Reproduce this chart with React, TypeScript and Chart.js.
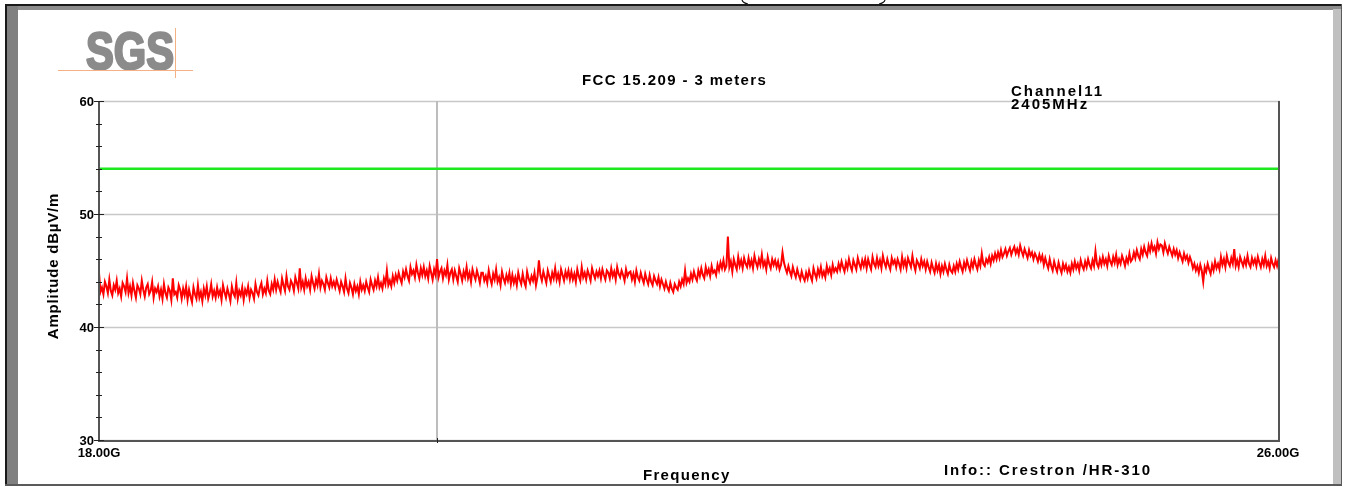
import { useEffect, useRef } from "react";
import { Chart, registerables } from "chart.js";

Chart.register(...registerables);

// Sweep range of the spectrum analyser (GHz)
const SWEEP_START_GHZ = 18;
const SWEEP_STOP_GHZ = 26;

// Measured peak trace, dBµV/m, evenly spaced across the sweep
const AMPLITUDE_DBUV: number[] = [
  44.8, 43.1, 43.5, 42.9, 44.0, 43.6, 43.0, 44.2, 43.2, 42.8, 43.7, 43.3, 44.1, 43.0, 43.4, 42.7, 43.9, 43.6, 43.1, 44.3,
  43.0, 43.6, 42.8, 43.9, 43.2, 42.6, 43.7, 43.4, 42.9, 44.1, 43.3, 42.7, 43.5, 43.8, 42.9, 43.2, 44.0, 42.6, 43.4, 43.1,
  43.6, 42.7, 43.3, 42.5, 43.8, 43.0, 42.6, 43.5, 43.2, 42.4, 44.3, 42.9, 43.1, 42.6, 43.7, 43.3, 42.5, 43.4, 42.8, 43.6,
  42.4, 43.3, 42.7, 42.2, 43.5, 42.9, 42.5, 43.7, 42.6, 43.1, 42.3, 43.4, 42.8, 43.6, 42.5, 43.0, 43.8, 42.7, 43.2, 42.6,
  43.5, 42.8, 43.2, 42.4, 43.7, 43.1, 42.6, 43.4, 42.9, 42.3, 43.6, 43.0, 42.7, 43.9, 42.5, 43.2, 42.8, 43.5, 42.4, 43.3,
  42.9, 43.6, 42.6, 43.3, 43.0, 42.5, 43.8, 43.1, 42.8, 43.5, 43.9, 42.9, 43.4, 43.0, 44.1, 43.2, 42.9, 43.8, 43.3, 44.2,
  43.3, 44.0, 43.5, 43.1, 44.3, 43.7, 43.2, 44.5, 43.6, 43.3, 44.1, 43.8, 43.2, 44.4, 43.9, 43.4, 45.2, 43.5, 44.0, 43.3,
  44.3, 43.6, 44.0, 43.3, 44.5, 43.9, 43.4, 44.2, 43.7, 44.7, 43.5, 44.1, 43.8, 43.3, 44.4, 43.9, 43.5, 44.3, 43.6, 44.0,
  43.5, 44.2, 43.7, 43.2, 44.0, 43.6, 43.1, 44.3, 43.4, 43.0, 43.9, 43.5, 42.9, 43.8, 43.2, 43.6, 42.9, 44.0, 43.3, 43.7,
  43.2, 44.0, 43.5, 43.1, 44.2, 43.7, 43.3, 44.1, 43.6, 44.4, 43.5, 43.9, 43.4, 44.3, 43.8, 45.0, 43.7, 44.1, 43.6, 44.5,
  43.9, 44.6, 44.1, 44.8, 44.3, 43.9, 44.9, 44.4, 45.1, 44.5, 44.1, 45.3, 44.7, 45.0, 44.4, 45.5, 44.8, 44.3, 45.2, 44.6,
  45.3, 44.5, 45.0, 44.3, 45.4, 44.8, 44.2, 45.1, 44.6, 46.0, 44.4, 44.9, 45.2, 44.3, 45.0, 44.6, 45.5, 44.2, 44.8, 45.1,
  44.2, 45.0, 44.5, 44.0, 45.2, 44.7, 44.1, 44.9, 44.4, 45.3, 44.3, 44.8, 44.0, 45.1, 44.6, 44.2, 45.0, 44.5, 43.9, 44.8,
  44.8, 44.1, 44.5, 43.9, 45.0, 44.3, 43.8, 44.7, 44.2, 45.1, 44.0, 44.4, 43.7, 44.9, 44.3, 43.9, 44.6, 44.1, 44.8, 43.8,
  44.6, 43.9, 44.4, 43.7, 44.8, 44.2, 43.8, 44.7, 44.0, 43.6, 44.9, 44.3, 43.9, 44.5, 44.1, 44.8, 43.7, 44.4, 45.9, 44.6,
  44.1, 44.9, 44.4, 43.9, 45.0, 44.5, 44.0, 44.8, 44.3, 45.2, 44.2, 44.7, 44.0, 45.1, 44.6, 44.1, 44.9, 44.4, 45.0, 44.2,
  44.9, 44.2, 44.7, 44.0, 45.1, 44.5, 44.1, 45.3, 44.4, 44.8, 44.2, 45.0, 44.6, 44.1, 45.2, 44.7, 44.3, 44.9, 44.5, 45.0,
  44.3, 45.1, 44.6, 44.2, 45.0, 44.8, 44.3, 45.2, 44.5, 44.9, 44.2, 45.3, 44.7, 44.4, 45.0, 44.6, 44.1, 45.1, 44.5, 44.8,
  44.9, 44.2, 44.7, 44.0, 45.0, 44.4, 44.1, 44.8, 44.3, 43.9, 44.7, 44.2, 43.8, 44.6, 44.0, 43.7, 44.5, 44.1, 43.8, 44.4,
  43.6, 44.2, 43.8, 43.4, 44.0, 43.5, 43.2, 43.9, 43.4, 43.1, 43.8, 43.5, 43.3, 44.0, 43.6, 44.2, 43.8, 45.0, 43.9, 44.3,
  44.0, 44.7, 44.2, 44.9, 44.4, 44.1, 45.0, 44.5, 45.2, 44.6, 44.3, 45.3, 44.7, 45.1, 44.5, 45.4, 44.8, 45.0, 44.6, 45.5,
  45.0, 45.7, 45.2, 45.9, 45.1, 45.4, 48.0, 45.3, 45.8, 44.9, 46.0, 45.5, 45.1, 46.2, 45.4, 45.9, 45.2, 46.1, 45.6, 45.3,
  46.1, 45.4, 45.9, 45.2, 46.3, 45.7, 45.3, 46.0, 45.5, 46.4, 45.4, 45.8, 45.1, 46.2, 45.6, 45.2, 46.0, 45.5, 45.9, 45.3,
  45.8, 45.1, 45.5, 46.6, 45.7, 45.2, 44.8, 45.4, 44.9, 44.5, 45.3, 44.8, 44.4, 45.1, 44.6, 44.2, 44.9, 44.4, 44.1, 44.8,
  44.3, 45.0, 44.5, 44.1, 45.2, 44.7, 44.3, 45.1, 44.6, 45.3, 44.5, 44.9, 44.4, 45.4, 44.8, 45.2, 44.6, 45.5, 44.9, 45.2,
  44.9, 45.6, 45.1, 45.8, 45.3, 44.9, 45.7, 45.2, 46.0, 45.4, 45.0, 45.9, 45.5, 45.1, 46.1, 45.6, 45.2, 45.9, 45.4, 46.0,
  45.2, 46.0, 45.5, 45.1, 46.2, 45.6, 45.3, 46.1, 45.4, 45.9, 45.2, 46.3, 45.7, 45.3, 46.0, 45.5, 45.1, 46.1, 45.6, 45.9,
  45.3, 46.0, 45.6, 45.1, 46.2, 45.4, 45.9, 45.2, 46.1, 45.7, 45.3, 46.3, 45.5, 45.0, 45.9, 45.6, 45.2, 46.0, 45.4, 45.8,
  45.1, 45.8, 45.3, 44.9, 45.7, 45.2, 44.8, 45.6, 45.0, 45.5, 44.7, 45.4, 44.9, 45.6, 45.1, 44.7, 45.5, 45.0, 44.8, 45.4,
  44.9, 45.6, 45.1, 45.8, 45.3, 44.9, 45.7, 45.2, 45.9, 45.4, 45.0, 45.8, 45.3, 46.0, 45.5, 45.1, 45.9, 45.4, 46.5, 45.6,
  45.4, 46.0, 45.7, 46.2, 45.6, 46.3, 45.9, 46.5, 46.0, 46.6, 46.1, 46.8, 46.2, 46.5, 46.9, 46.3, 46.7, 47.0, 46.4, 46.8,
  47.1, 46.5, 46.9, 46.4, 47.2, 46.7, 46.3, 46.9, 46.5, 46.1, 46.8, 46.3, 46.6, 46.0, 46.5, 46.2, 45.8, 46.4, 45.9, 46.3,
  45.5, 46.1, 45.6, 45.2, 46.0, 45.4, 45.0, 45.8, 45.3, 44.9, 45.7, 45.2, 44.8, 45.6, 45.1, 45.5, 44.9, 45.3, 44.8, 45.6,
  45.1, 45.8, 45.2, 45.6, 45.0, 45.9, 45.4, 45.1, 45.8, 45.3, 46.0, 45.5, 45.2, 45.9, 45.4, 46.7, 45.6, 45.3, 46.0, 45.5,
  46.2, 45.6, 46.0, 45.4, 46.3, 45.8, 45.5, 46.2, 45.7, 46.4, 45.5, 46.0, 45.6, 46.3, 45.9, 45.4, 46.1, 45.7, 46.5, 45.8,
  46.0, 46.6, 46.1, 46.8, 46.3, 46.0, 46.9, 46.4, 47.1, 46.6, 46.3, 47.2, 46.7, 47.4, 46.8, 47.1, 46.5, 47.5, 46.9, 47.3,
  47.2, 46.6, 47.4, 46.9, 46.5, 47.1, 46.7, 46.3, 46.9, 46.4, 46.8, 46.1, 46.6, 46.2, 45.8, 46.5, 46.0, 46.3, 45.7, 46.2,
  45.8, 45.2, 45.6, 45.0, 45.4, 44.8, 45.5, 45.0, 44.0, 45.3, 44.9, 45.6, 45.1, 44.7, 45.5, 45.0, 45.8, 45.2, 45.6, 45.1,
  46.2, 45.5, 46.0, 45.3, 46.3, 45.7, 45.4, 46.1, 45.6, 46.9, 45.4, 45.9, 45.3, 46.2, 45.8, 45.4, 46.0, 45.5, 46.3, 45.6,
  45.3, 46.1, 45.6, 46.0, 45.4, 46.2, 45.7, 45.3, 46.0, 45.5, 46.3, 45.4, 45.8, 45.2, 46.1, 45.6, 45.3, 45.9, 45.4, 46.0,
  45.5,
];

// FCC 15.209 average limit at 3 m
const LIMIT_DBUV = 54;

// Axis settings
const Y_MIN = 30;
const Y_MAX = 60;
const Y_MAJOR_TICKS = [60, 50, 40, 30];
const Y_MINOR_STEP = 2;
const X_TICK_LABELS = ["18.00G", "26.00G"];
const MARKER_GHZ = 20.29;

const TITLE = "FCC 15.209 - 3 meters";
const CHANNEL_LINES = ["Channel11", "2405MHz"];
const X_TITLE = "Frequency";
const Y_TITLE = "Amplitude dBµV/m";
const INFO = "Info:: Crestron /HR-310";
const LOGO = "SGS";

const FONT = '"Liberation Sans", Arial, Helvetica, sans-serif';

function drawText(
  ctx: CanvasRenderingContext2D,
  s: string,
  x: number,
  y: number,
  size: number,
  spacing: number,
  align: CanvasTextAlign = "left",
  baseline: CanvasTextBaseline = "alphabetic"
) {
  ctx.font = `bold ${size}px ${FONT}`;
  (ctx as any).letterSpacing = `${spacing}px`;
  ctx.textAlign = align;
  ctx.textBaseline = baseline;
  ctx.fillStyle = "#000";
  ctx.fillText(s, x, y);
  (ctx as any).letterSpacing = "0px";
}

const frameAndLabels = {
  id: "frameAndLabels",
  beforeDraw(chart: Chart) {
    const ctx = chart.ctx;
    const W = chart.width;
    const H = chart.height;
    ctx.save();
    ctx.fillStyle = "#fff";
    ctx.fillRect(0, 0, W, H);

    // partial bracket shapes peeking in at the top
    ctx.strokeStyle = "#111";
    ctx.lineWidth = 1.2;
    ctx.beginPath();
    ctx.moveTo(742, 0);
    ctx.quadraticCurveTo(743, 3, 748, 4);
    ctx.moveTo(885, 0);
    ctx.quadraticCurveTo(884, 3, 879, 4);
    ctx.stroke();

    // bevelled outer frame
    ctx.fillStyle = "#8c8c8c";
    ctx.fillRect(5, 5, 1337, 5);
    ctx.fillStyle = "#808080";
    ctx.fillRect(5, 5, 13, 481);
    ctx.fillStyle = "#c0c0c0";
    ctx.fillRect(1333, 9, 9, 476);
    ctx.fillStyle = "#1a1a1a";
    ctx.fillRect(5, 4, 1337, 2);
    ctx.fillRect(5, 4, 2, 482);
    ctx.fillStyle = "#5a5a5a";
    ctx.fillRect(5, 484, 1337, 2);
    ctx.fillRect(1341, 4, 1, 482);

    // logo
    ctx.save();
    ctx.font = `bold 52px ${FONT}`;
    const w = ctx.measureText(LOGO).width;
    ctx.translate(86, 69);
    ctx.scale(88 / w, 1);
    ctx.fillStyle = "#8b8b8b";
    ctx.strokeStyle = "#8b8b8b";
    ctx.lineWidth = 2.5;
    ctx.lineJoin = "round";
    ctx.textAlign = "left";
    ctx.textBaseline = "alphabetic";
    ctx.fillText(LOGO, 0, 0);
    ctx.strokeText(LOGO, 0, 0);
    ctx.restore();
    ctx.strokeStyle = "#f4b183";
    ctx.lineWidth = 1;
    ctx.beginPath();
    ctx.moveTo(58, 70.5);
    ctx.lineTo(193, 70.5);
    ctx.moveTo(175.5, 28);
    ctx.lineTo(175.5, 78);
    ctx.stroke();
    ctx.restore();
  },
  beforeDatasetsDraw(chart: Chart) {
    const ctx = chart.ctx;
    const { left, right, top, bottom } = chart.chartArea;
    const ys = chart.scales.y;
    const xs = chart.scales.x;
    ctx.save();
    ctx.strokeStyle = "#c8c8c8";
    ctx.lineWidth = 1.5;
    for (const v of Y_MAJOR_TICKS) {
      const y = Math.round(ys.getPixelForValue(v)) + 0.5;
      ctx.beginPath();
      ctx.moveTo(left, y);
      ctx.lineTo(right, y);
      ctx.stroke();
    }
    const mx = Math.round(xs.getPixelForValue(MARKER_GHZ));
    ctx.strokeStyle = "#bdbdbd";
    ctx.lineWidth = 2;
    ctx.beginPath();
    ctx.moveTo(mx, top);
    ctx.lineTo(mx, bottom);
    ctx.stroke();
    ctx.restore();
  },
  afterDatasetsDraw(chart: Chart) {
    const ctx = chart.ctx;
    const { left, right, top, bottom } = chart.chartArea;
    const ys = chart.scales.y;
    const xs = chart.scales.x;
    ctx.save();
    ctx.strokeStyle = "#555";
    ctx.lineWidth = 2;
    ctx.beginPath();
    ctx.moveTo(left, top);
    ctx.lineTo(left, bottom + 1);
    ctx.lineTo(right, bottom + 1);
    ctx.moveTo(right - 1, top);
    ctx.lineTo(right - 1, bottom + 1);
    ctx.stroke();

    // y ticks
    ctx.strokeStyle = "#222";
    ctx.lineWidth = 1;
    for (let v = Y_MIN; v <= Y_MAX; v += Y_MINOR_STEP) {
      const y = Math.round(ys.getPixelForValue(v)) + 0.5;
      const major = Y_MAJOR_TICKS.includes(v);
      ctx.beginPath();
      ctx.moveTo(major ? left - 5 : left - 3, y);
      ctx.lineTo(major ? left + 5 : left + 3, y);
      ctx.stroke();
    }
    for (const v of Y_MAJOR_TICKS) {
      const y = ys.getPixelForValue(v);
      drawText(ctx, String(v), left - 5, y + 1, 13, 0, "right", "middle");
    }

    // marker tick on the bottom axis
    const mx = Math.round(xs.getPixelForValue(MARKER_GHZ)) + 0.5;
    ctx.beginPath();
    ctx.moveTo(mx, bottom - 2);
    ctx.lineTo(mx, bottom + 3);
    ctx.stroke();

    // x end labels
    drawText(ctx, X_TICK_LABELS[0], xs.getPixelForValue(SWEEP_START_GHZ), 457, 13, 0, "center");
    drawText(ctx, X_TICK_LABELS[1], xs.getPixelForValue(SWEEP_STOP_GHZ) - 2, 457, 13, 0, "center");

    // titles and annotations
    drawText(ctx, TITLE, 582, 85, 15, 1.4);
    drawText(ctx, CHANNEL_LINES[0], 1011, 96, 15, 2);
    drawText(ctx, CHANNEL_LINES[1], 1011, 109, 15, 2);
    drawText(ctx, X_TITLE, 643, 480, 15, 1.3);
    drawText(ctx, INFO, 944, 475, 15, 1.9);

    ctx.save();
    ctx.translate(54, 266);
    ctx.rotate(-Math.PI / 2);
    drawText(ctx, Y_TITLE, 0, 0, 15, 0.8, "center", "middle");
    ctx.restore();
    ctx.restore();
  },
};

export default function App() {
  const canvasRef = useRef<HTMLCanvasElement | null>(null);

  useEffect(() => {
    const canvas = canvasRef.current;
    if (!canvas) return;
    const step = (SWEEP_STOP_GHZ - SWEEP_START_GHZ) / (AMPLITUDE_DBUV.length - 1);
    const trace = AMPLITUDE_DBUV.map((v, i) => ({ x: SWEEP_START_GHZ + i * step, y: v }));
    const limit = [
      { x: SWEEP_START_GHZ, y: LIMIT_DBUV },
      { x: SWEEP_STOP_GHZ, y: LIMIT_DBUV },
    ];

    const chart = new Chart(canvas, {
      type: "line",
      data: {
        datasets: [
          {
            label: "Limit",
            data: limit,
            borderColor: "#1ee81e",
            borderWidth: 2.5,
            pointRadius: 0,
          },
          {
            label: "Peak",
            data: trace,
            borderColor: "#ff0000",
            borderWidth: 2,
            pointRadius: 0,
            tension: 0,
          },
        ],
      },
      options: {
        responsive: false,
        animation: false,
        devicePixelRatio: 1,
        layout: { padding: { left: 99, right: 66, top: 101, bottom: 47 } },
        plugins: { legend: { display: false }, tooltip: { enabled: false } },
        scales: {
          x: { type: "linear", min: SWEEP_START_GHZ, max: SWEEP_STOP_GHZ, display: false },
          y: { type: "linear", min: Y_MIN, max: Y_MAX, display: false },
        },
      },
      plugins: [frameAndLabels],
    });
    return () => chart.destroy();
  }, []);

  return (
    <canvas
      ref={canvasRef}
      width={1346}
      height={487}
      style={{ position: "absolute", left: 0, top: 0, width: 1346, height: 487 }}
    />
  );
}
